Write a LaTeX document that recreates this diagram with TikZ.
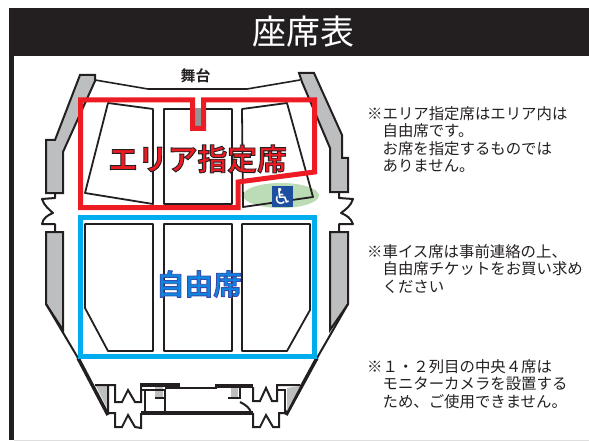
\documentclass[tikz,border=0pt]{standalone}
\usepackage{fontspec}
\setmainfont{Noto Sans CJK JP}
\newfontfamily\heavyfont[FakeBold=3]{Noto Sans CJK JP Bold}
\newfontfamily\stagefont{Noto Sans CJK JP Bold}
\definecolor{inkblack}{HTML}{231F20}
\definecolor{wallgrey}{HTML}{BCBEC0}
\definecolor{areared}{HTML}{ED1C24}
\definecolor{freeblue}{HTML}{00AEEF}
\definecolor{freetext}{HTML}{0C84E0}
\definecolor{greenzone}{HTML}{BBDCB4}
\definecolor{wheelblue}{HTML}{1C4FA0}
\begin{document}
\begin{tikzpicture}
		[
			x = 1pt, y = -1pt,
			wall/.style = {draw = inkblack, line width = 2pt, fill = wallgrey, line join = miter},
			thin wall/.style = {draw = inkblack, line width = 2pt, line join = miter},
			thick wall/.style = {draw = inkblack, line width = 3.5pt},
			block/.style = {draw = inkblack, line width = 1.8pt, line join = round},
			note/.style = {anchor = north west, align = left, inner sep = 0pt, text = inkblack, font = \fontsize{15.4}{17.6}\selectfont}
		]
		\useasboundingbox (0,0) rectangle (589,441);
		% frame
		\fill[inkblack] (9,8) rectangle (589,56);
		\fill[inkblack] (9,56) rectangle (14,440);
		\fill[black!13] (14,440) rectangle (589,441);
		\node[text = white, font = \fontsize{34}{34}\selectfont] (title) at (303,32) {座席表};
		% stage
		\node[text = inkblack, font = \stagefont\fontsize{15}{15}\selectfont] (stage) at (195.5,76) {舞台};
		\draw[thin wall, line width = 1.6pt] (95,80) -- (148,89) -- (247,89) -- (300,80);
		% wheelchair zone
		\fill[greenzone] (281,195.5) ellipse [x radius = 38, y radius = 12.5];
		% side walls
		\draw[wall] (80,75) -- (95,75) -- (95,81) -- (63,152) -- (63,193) -- (46,193) -- (46,140) -- (55,140) -- cycle;
		\draw[wall] (299,73) -- (314,73) -- (342,135) -- (342,158) -- (348,158) -- (348,192) -- (330,192) -- (330,148) -- (302,82) -- cycle;
		\draw[wall] (46,232) -- (63,232) -- (63,330) -- (46,304) -- cycle;
		\draw[wall] (348,232) -- (330,232) -- (330,330) -- (348,304) -- cycle;
		\draw[thin wall] (46,304) -- (78,358);
		\draw[thin wall] (348,304) -- (317,358);
		\draw[thick wall] (78,358) -- (108,415);
		\draw[thick wall] (317,358) -- (286,415);
		% side doors
		\draw[thin wall, line join = round] (55,193) -- (55,198) -- (42,199) .. controls (44,206) and (50,210) .. (53,213) .. controls (48,215) and (43,218) .. (42,224) -- (55,224) -- (55,232);
		\draw[thin wall, line join = round] (339,192) -- (339,198) -- (353,199) .. controls (351,206) and (345,210) .. (341,213) .. controls (346,215) and (351,218) .. (353,224) -- (339,224) -- (339,232);
		% lobby, left
		\fill[wallgrey] (96,386) -- (108,386) -- (108,410) -- cycle;
		\fill[wallgrey] (155,387) rectangle (163,397);
		\draw[thin wall] (95,385) -- (115,385) -- (115,402) -- (122,402) -- (128,390) -- (135,402) -- (141,402) -- (141,385);
		\draw[thin wall] (108,385) -- (108,413) -- (115,413) -- (115,427) -- (122,427) -- (128,415) -- (135,427) -- (141,428) -- (141,413);
		\draw[thick wall] (140,385) -- (180,385);
		\draw[thin wall] (141,390) -- (165,390) -- (165,413);
		\draw[thin wall] (145,390) -- (145,413);
		\draw[thin wall] (155,398) -- (165,398);
		\draw[thick wall] (141,413) -- (253,413);
		\draw[thin wall] (165,388) -- (217,388);
		% lobby, right
		\fill[wallgrey] (231,387) rectangle (238,398);
		\fill[wallgrey] (287,388) -- (300,386) -- (287,411) -- cycle;
		\draw[thick wall] (215,386) -- (253,386);
		\draw[thin wall] (228,398) -- (240,398) -- (240,387);
		\draw[thin wall] (240,402) .. controls (246,405) and (250,408) .. (251,413);
		\draw[thin wall] (253,387) -- (253,401) -- (260,401) -- (266,388) -- (272,401) -- (277,401) -- (277,385) -- (300,385);
		\draw[thin wall] (277,390) -- (285,390) -- (285,413);
		\draw[thin wall] (253,413) -- (253,427) -- (260,427) -- (266,415) -- (273,427) -- (279,427) -- (279,413) -- (287,413);
		% seat blocks
		\draw[block] (108,103) -- (153,109) -- (153,204) -- (85,193) -- cycle;
		\draw[block] (164,109) rectangle (232,204);
		\draw[block] (242,109) -- (287,103) -- (313,197) -- (243,207) -- cycle;
		\draw[block] (85,224) -- (153,224) -- (153,351) -- (108,351) -- (85,308) -- cycle;
		\draw[block] (164,224) rectangle (232,351);
		\draw[block] (242,224) -- (310,224) -- (310,310) -- (287,351) -- (242,351) -- cycle;
		% camera gap
		\fill[white] (195,100) rectangle (201,108);
		\fill[black!42] (195,108) rectangle (201,126);
		% areas
		\draw[freeblue, line width = 5pt] (80.5,217.5) rectangle (314.5,356.5);
		\draw[areared, line width = 5pt] (80.5,100) -- (192.5,100) -- (192.5,128.5) -- (203.5,128.5) -- (203.5,100) -- (314.5,100) -- (314.5,172) -- (238,182) -- (238,207.5) -- (80.5,207.5) -- cycle;
		\node[text = areared, font = \heavyfont\fontsize{29.8}{30}\selectfont] (areatext) at (197.5,159) {\special{pdf:code 0.14 0.12 0.13 RG}エリア指定席};
		\node[text = freetext, font = \heavyfont\fontsize{28.6}{29}\selectfont] (freetext) at (199,284) {\special{pdf:code 0.23 0.29 0.66 RG}自由席};
		% wheelchair mark
		\node[fill = wheelblue, text = white, minimum size = 21pt, inner sep = 0pt] (wheelchair) at (282.5,196) {\fontspec{DejaVu Sans}\fontsize{22}{22}\selectfont ♿};
		% notes
		\node[note] (note one) at (367,106) {※エリア指定席はエリア内は\\　自由席です。\\　お席を指定するものでは\\　ありません。};
		\node[note] (note two) at (367,244) {※車イス席は事前連絡の上、\\　自由席チケットをお買い求め\\　ください};
		\node[note] (note three) at (367,359) {※１・２列目の中央４席は\\　モニターカメラを設置する\\　ため、ご使用できません。};
\end{tikzpicture}
\end{document}
